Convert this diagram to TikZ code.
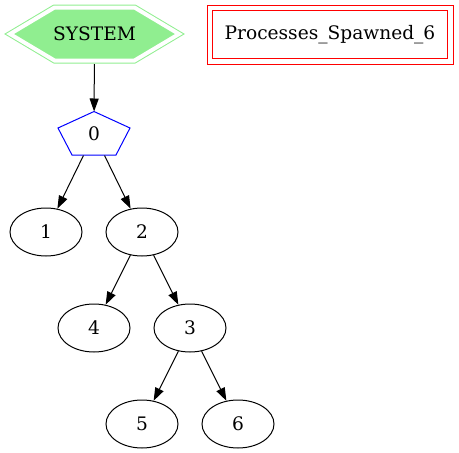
\documentclass[tikz,border=0pt]{standalone}
\usepackage{fontspec}
\setmainfont{DejaVu Serif}
\usetikzlibrary{positioning}
\usetikzlibrary{calc}
\usetikzlibrary{shapes.geometric, arrows.meta}
\definecolor{sysgreen}{HTML}{90EE90}

\begin{document}
\begin{tikzpicture}[x=1pt, y=-1pt, font=\fontsize{18.6}{20}\selectfont, line width=1pt]
    \useasboundingbox (0,0) rectangle (459,453);
    % styles for the process nodes and the links
    \tikzstyle{proc} = [draw=black, ellipse, minimum width=72pt, minimum height=48pt, inner sep=0pt]
    \tikzstyle{link} = [-{Triangle[length=13pt, width=9pt]}, draw=black]

    % double hexagon behind the SYSTEM node
    \draw[draw=sysgreen, fill=sysgreen, double=white, double distance=4pt]
        (10,34) -- (54.5,7.5) -- (134.5,7.5) -- (179,34) -- (134.5,60.5) -- (54.5,60.5) -- cycle;
    \node[minimum width=179pt, minimum height=59pt, inner sep=0pt] (sys) at (94.5,34) {SYSTEM};

    % the counter box on the right
    \node[draw=red, double=white, double distance=4.5pt, minimum width=240.5pt, minimum height=53.5pt, inner sep=0pt] (spawned) at (330,34.5) {Processes\_Spawned\_6};

    % root process drawn as a blue pentagon
    \node[ellipse, minimum width=72pt, minimum height=44pt, inner sep=0pt] (n0) at (94,134) {0};
    \draw[draw=blue] (n0.north) -- ($(n0)+(36,-6)$) -- ($(n0)+(22,21)$) -- ($(n0)+(-22,21)$) -- ($(n0)+(-36,-6)$) -- cycle;

    % the other processes
    \foreach \n/\x/\y in {1/46/232, 2/142/232, 4/94/328, 3/190/328, 5/142/424, 6/238/424} {
        \node[proc] (n\n) at (\x,\y) {\n};
    }

    % links between the processes
    \foreach \a/\b in {sys/n0, n0/n1, n0/n2, n2/n4, n2/n3, n3/n5, n3/n6} {
        \draw[link] (\a) -- (\b);
    }
\end{tikzpicture}
\end{document}
